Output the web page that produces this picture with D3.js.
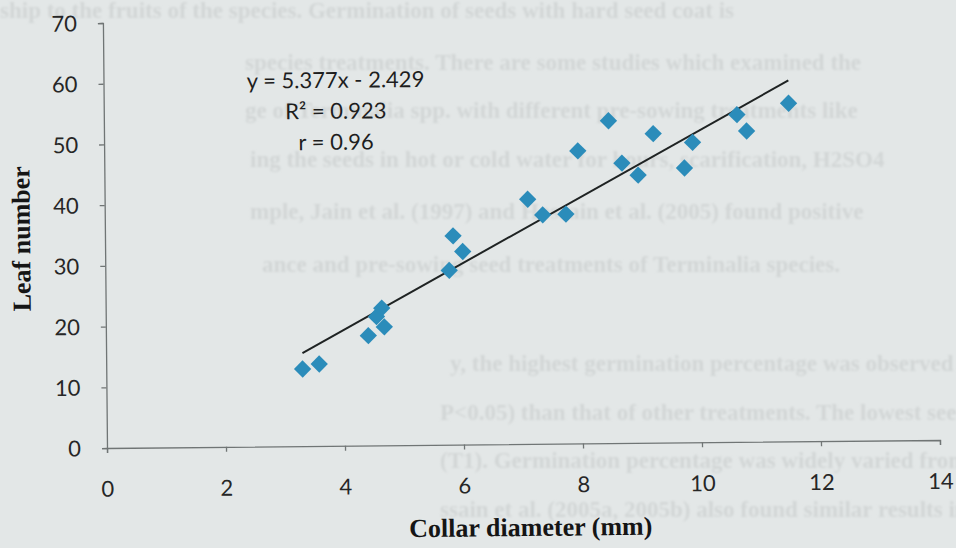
<!DOCTYPE html>
<html>
<head>
<meta charset="utf-8">
<script src="https://cdn.jsdelivr.net/npm/d3@7/dist/d3.min.js"></script>
<style>
  html, body { margin: 0; padding: 0; background: #e3e7e7; }
  svg { display: block; }
</style>
</head>
<body>
<script>
const W = 956, H = 548

// collar diameter (mm) and leaf number
const collarDiameter = [3.30, 3.58, 4.41, 4.68, 4.55, 4.64, 5.78, 6.01, 5.85, 7.11, 7.36,
  7.75, 7.96, 8.48, 8.70, 8.97, 9.23, 9.75, 9.89, 10.64, 10.80, 11.51]
const leafNumber = [12.7, 13.5, 18.1, 19.5, 21.2, 22.6, 28.7, 31.8, 34.4, 40.3, 37.7,
  37.8, 48.2, 53.1, 46.1, 44.1, 50.9, 45.2, 49.4, 53.9, 51.2, 55.7]

const xTicks = [0, 2, 4, 6, 8, 10, 12, 14]
const yTicks = [0, 10, 20, 30, 40, 50, 60, 70]

const slope = 5.377, intercept = -2.429
const statLines = ['y = 5.377x - 2.429', 'R² = 0.923', 'r = 0.96']

// faint text showing through from the other side of the page
const pageLines = [
  [0, 18, 'ship to the fruits of the species. Germination of seeds with hard seed coat is'],
  [245, 70, 'species treatments. There are some studies which examined the'],
  [245, 118, 'ge of Terminalia spp. with different pre-sowing treatments like'],
  [250, 167, 'ing the seeds in hot or cold water for hours, scarification, H2SO4'],
  [250, 219, 'mple, Jain et al. (1997) and Hossain et al. (2005) found positive'],
  [262, 272, 'ance and pre-sowing seed treatments of Terminalia species.'],
  [450, 371, 'y, the highest germination percentage was observed in T1'],
  [440, 420, 'P<0.05) than that of other treatments. The lowest seed'],
  [440, 468, '(T1). Germination percentage was widely varied from'],
  [440, 517, 'ssain et al. (2005a, 2005b) also found similar results in']
]

const X0 = 107, Y0 = 448
const svg = d3.select('body').append('svg')
  .attr('width', W)
  .attr('height', H)

const blur = svg.append('defs').append('filter').attr('id', 'soft')
blur.append('feGaussianBlur').attr('stdDeviation', 1.2)

svg.append('rect').attr('width', W).attr('height', H).attr('fill', '#e3e7e7')

svg.append('g')
  .attr('filter', 'url(#soft)')
  .selectAll('text')
  .data(pageLines)
  .join('text')
  .attr('x', d => d[0])
  .attr('y', d => d[1])
  .attr('font-family', 'Liberation Serif, serif')
  .attr('font-size', 23)
  .attr('font-weight', 'bold')
  .attr('fill', '#d2d6d6')
  .text(d => d[2])

// the photo is slightly tilted
const g = svg.append('g')
  .attr('transform', `rotate(-0.55, ${X0}, ${Y0})`)

const x = d3.scaleLinear().domain([0, 14]).range([X0, X0 + 833])
const y = d3.scaleLinear().domain([0, 70]).range([Y0, Y0 - 425])

const labelFont = 'Lato, Open Sans, sans-serif'

const xAxis = g.append('g')
  .attr('transform', `translate(0, ${Y0})`)
  .call(d3.axisBottom(x).tickValues(xTicks).tickSize(5).tickPadding(24))
const yAxis = g.append('g')
  .attr('transform', `translate(${X0}, 0)`)
  .call(d3.axisLeft(y).tickValues(yTicks).tickSize(5).tickPadding(21))

for (const ax of [xAxis, yAxis]) {
  ax.select('.domain').attr('stroke', '#707575').attr('stroke-width', 1.3)
  ax.selectAll('.tick line').attr('stroke', '#707575').attr('stroke-width', 1.3)
  ax.selectAll('.tick text')
    .attr('font-family', labelFont)
    .attr('font-size', 22)
    .attr('fill', '#262626')
}
xAxis.selectAll('.tick text').attr('dy', '0.9em')
yAxis.selectAll('.tick text').attr('dy', '0.35em')

// trend line across the data range
const xr = d3.extent(collarDiameter)
g.append('line')
  .attr('x1', x(xr[0]))
  .attr('y1', y(slope * xr[0] + intercept))
  .attr('x2', x(xr[1]))
  .attr('y2', y(slope * xr[1] + intercept))
  .attr('stroke', '#1f2323')
  .attr('stroke-width', 2)

const diamond = d3.symbol(d3.symbolSquare, 150)
g.append('g')
  .selectAll('path')
  .data(collarDiameter)
  .join('path')
  .attr('d', diamond)
  .attr('transform', (d, i) => `translate(${x(d)}, ${y(leafNumber[i])}) rotate(45)`)
  .attr('fill', '#2b8cba')

g.append('g')
  .selectAll('text')
  .data(statLines)
  .join('text')
  .attr('x', 339)
  .attr('y', (d, i) => 90 + i * 31)
  .attr('text-anchor', 'middle')
  .attr('font-family', labelFont)
  .attr('font-size', 22)
  .attr('fill', '#1e1e1e')
  .text(d => d)

g.append('text')
  .attr('x', 530)
  .attr('y', 540)
  .attr('text-anchor', 'middle')
  .attr('font-family', 'Liberation Serif, serif')
  .attr('font-weight', 'bold')
  .attr('font-size', 26)
  .attr('fill', '#151515')
  .text('Collar diameter (mm)')

g.append('text')
  .attr('transform', 'translate(32, 238) rotate(-90)')
  .attr('text-anchor', 'middle')
  .attr('font-family', 'Liberation Serif, serif')
  .attr('font-weight', 'bold')
  .attr('font-size', 26)
  .attr('fill', '#151515')
  .text('Leaf number')
</script>
</body>
</html>
